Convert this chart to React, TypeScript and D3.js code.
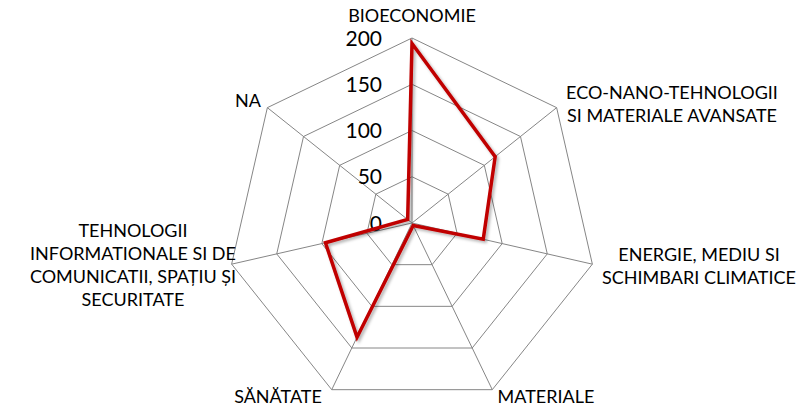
import React, { useEffect, useRef } from 'react';
import * as d3 from 'd3';

// categories (clockwise from top) and values
const categories: string[][] = [
  ['BIOECONOMIE'],
  ['ECO-NANO-TEHNOLOGII', 'SI MATERIALE AVANSATE'],
  ['ENERGIE, MEDIU SI', 'SCHIMBARI CLIMATICE'],
  ['MATERIALE'],
  ['SĂNĂTATE'],
  ['TEHNOLOGII', 'INFORMATIONALE SI DE', 'COMUNICATII, SPAȚIU ȘI', 'SECURITATE'],
  ['NA'],
];
const values = [194, 115, 79, 3, 137, 96, 6];
const ticks = [0, 50, 100, 150, 200];

// label placement: [x, y of first baseline, anchor]
const labelPos: Array<[number, number, string]> = [
  [412, 22, 'middle'],
  [672, 99, 'middle'],
  [699, 261, 'middle'],
  [546, 403, 'middle'],
  [278, 403, 'middle'],
  [133, 237, 'middle'],
  [248, 107, 'middle'],
];

const App: React.FC = () => {
  const svgRef = useRef<SVGSVGElement>(null);

  useEffect(() => {
    if (!svgRef.current) return;
    const width = 804;
    const height = 406;
    const cx = 412;
    const cy = 223;
    const radius = 185;
    const n = categories.length;

    const svg = d3.select(svgRef.current);
    svg.selectAll('*').remove();
    svg.attr('width', width).attr('height', height);

    const defs = svg.append('defs');
    const f = defs.append('filter').attr('id', 'shadow')
      .attr('x', '-10%').attr('y', '-10%').attr('width', '120%').attr('height', '120%');
    f.append('feDropShadow')
      .attr('dx', 2).attr('dy', 2).attr('stdDeviation', 1.5)
      .attr('flood-color', '#000').attr('flood-opacity', 0.3);

    const r = d3.scaleLinear().domain([0, 200]).range([0, radius]);
    const angle = (i: number) => (i * 2 * Math.PI) / n;
    const pt = (i: number, v: number): [number, number] => [
      cx + r(v) * Math.sin(angle(i)),
      cy - r(v) * Math.cos(angle(i)),
    ];

    const g = svg.append('g');

    // rings
    ticks.filter(t => t > 0).forEach(t => {
      const pts = d3.range(n).map(i => pt(i, t));
      g.append('path')
        .attr('d', d3.line().curve(d3.curveLinearClosed)(pts))
        .attr('fill', 'none')
        .attr('stroke', '#868686')
        .attr('stroke-width', 1);
    });

    // spokes
    d3.range(n).forEach(i => {
      const [x, y] = pt(i, 200);
      g.append('line')
        .attr('x1', cx).attr('y1', cy)
        .attr('x2', x).attr('y2', y)
        .attr('stroke', '#868686')
        .attr('stroke-width', 1);
    });

    // tick labels
    ticks.forEach(t => {
      g.append('text')
        .attr('x', cx - 30)
        .attr('y', cy - r(t))
        .attr('dy', '0.36em')
        .attr('text-anchor', 'end')
        .attr('font-family', 'Lato, sans-serif')
        .attr('font-size', 21)
        .attr('fill', '#000')
        .text(t);
    });

    // series
    const seriesPts = values.map((v, i) => pt(i, v));
    g.append('path')
      .attr('d', d3.line().curve(d3.curveLinearClosed)(seriesPts))
      .attr('fill', 'none')
      .attr('stroke', '#C00000')
      .attr('stroke-width', 3.5)
      .attr('stroke-linejoin', 'miter')
      .attr('filter', 'url(#shadow)');

    // category labels
    categories.forEach((lines, i) => {
      const [x, y, anchor] = labelPos[i];
      const t = g.append('text')
        .attr('text-anchor', anchor)
        .attr('font-family', 'Lato, sans-serif')
        .attr('font-size', 18)
        .attr('fill', '#000');
      lines.forEach((line, j) => {
        t.append('tspan').attr('x', x).attr('y', y + j * 23).text(line);
      });
    });
  }, []);

  return (
    <div style={{ position: 'absolute', left: 0, top: 0, width: 804, height: 406, overflow: 'hidden' }}>
      <svg ref={svgRef} style={{ display: 'block' }}></svg>
    </div>
  );
};

export default App;
